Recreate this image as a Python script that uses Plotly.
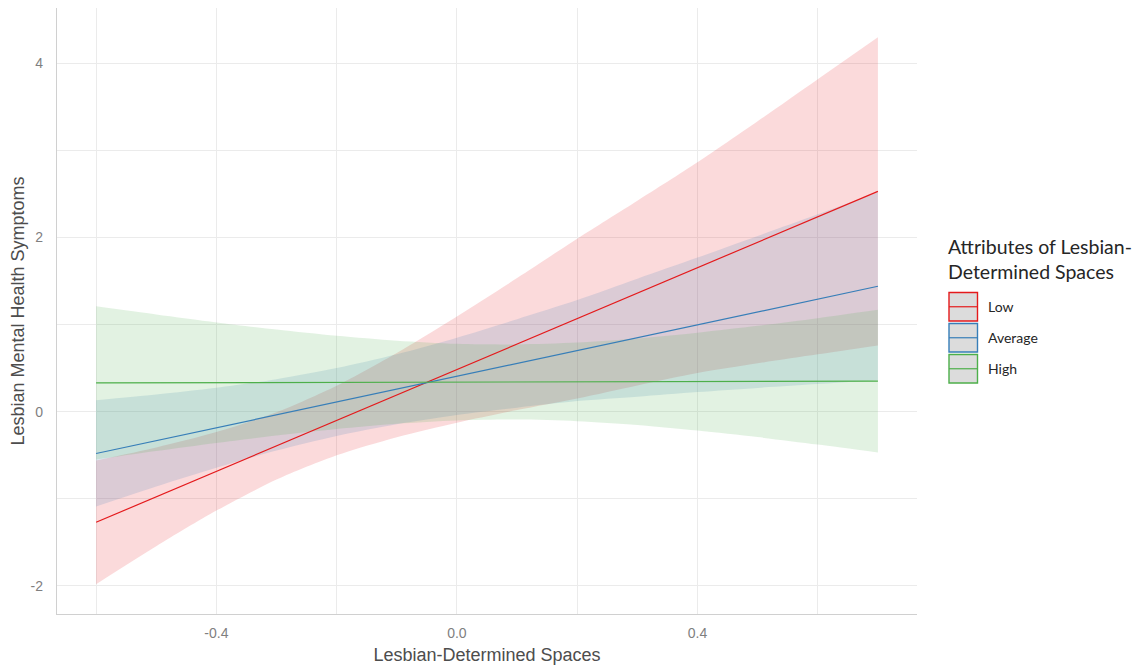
import plotly.graph_objects as go

# ---- data ----
x_vals = [-0.6, -0.5, -0.4, -0.3, -0.2, -0.1, 0.0, 0.1, 0.2, 0.3, 0.4, 0.5, 0.6, 0.7]

groups = ["Low", "Average", "High"]

low_line = [-1.27, -0.978, -0.685, -0.393, -0.101, 0.191, 0.484, 0.776, 1.068, 1.361, 1.653, 1.945, 2.238, 2.53]
low_upper = [-0.56, -0.411, -0.234, -0.006, 0.299, 0.675, 1.094, 1.534, 1.985, 2.421, 2.863, 3.335, 3.818, 4.30]
low_lower = [-1.98, -1.545, -1.136, -0.780, -0.501, -0.293, -0.126, 0.018, 0.151, 0.301, 0.443, 0.555, 0.658, 0.76]

avg_line = [-0.48, -0.332, -0.185, -0.037, 0.111, 0.258, 0.406, 0.554, 0.702, 0.849, 0.997, 1.145, 1.292, 1.44]
avg_upper = [0.13, 0.196, 0.274, 0.373, 0.501, 0.660, 0.850, 1.062, 1.282, 1.526, 1.769, 2.017, 2.267, 2.52]
avg_lower = [-1.09, -0.860, -0.644, -0.447, -0.279, -0.144, -0.038, 0.046, 0.122, 0.172, 0.225, 0.273, 0.317, 0.36]

high_line = [0.33, 0.332, 0.333, 0.335, 0.336, 0.338, 0.339, 0.341, 0.342, 0.344, 0.345, 0.347, 0.348, 0.35]
high_upper = [1.21, 1.116, 1.025, 0.943, 0.871, 0.815, 0.779, 0.772, 0.793, 0.840, 0.907, 0.986, 1.074, 1.17]
high_lower = [-0.55, -0.452, -0.359, -0.273, -0.199, -0.139, -0.101, -0.090, -0.109, -0.152, -0.217, -0.292, -0.378, -0.47]

x_tickvals = [-0.6, -0.4, -0.2, 0.0, 0.2, 0.4, 0.6]
x_ticktext = ["", "-0.4", "", "0.0", "", "0.4", ""]
y_tickvals = [-2, -1, 0, 1, 2, 3, 4]
y_ticktext = ["-2", "", "0", "", "2", "", "4"]

legend_title = "Attributes of Lesbian-<br>Determined Spaces"
x_title = "Lesbian-Determined Spaces"
y_title = "Lesbian Mental Health Symptoms"

# ---- styles ----
line_colors = ["#E41A1C", "#377EB8", "#4DAF4A"]
fill_colors = ["rgba(228,26,28,0.16)", "rgba(55,126,184,0.16)", "rgba(77,175,74,0.16)"]

series = [
    (low_line, low_upper, low_lower),
    (avg_line, avg_upper, avg_lower),
    (high_line, high_upper, high_lower),
]

# page body has an 8px default margin; lay out in figure coordinates
OFF = 8
W, H = 1145 - OFF, 668 - OFF
L, R, T, B = 57 - OFF, 228, 8 - OFF, 54
PW, PH = W - L - R, H - T - B

def px(page_x):
    return (page_x - OFF - L) / PW

def py(page_y):
    return (H - B - (page_y - OFF)) / PH

fig = go.Figure()

for (ln, up, lo), fc, name in zip(series, fill_colors, groups):
    fig.add_trace(go.Scatter(
        x=x_vals, y=up, mode="lines",
        line=dict(width=0, shape="spline", smoothing=0.8),
        hoverinfo="skip", showlegend=False, name=name + " upper",
    ))
    fig.add_trace(go.Scatter(
        x=x_vals, y=lo, mode="lines",
        fill="tonexty", fillcolor=fc,
        line=dict(width=0, shape="spline", smoothing=0.8),
        hoverinfo="skip", showlegend=False, name=name + " lower",
    ))

for (ln, up, lo), lc, name in zip(series, line_colors, groups):
    fig.add_trace(go.Scatter(
        x=x_vals, y=ln, mode="lines",
        line=dict(color=lc, width=1.2),
        showlegend=False, name=name,
    ))

# ---- manual legend (ggplot style keys) ----
shapes = []
annotations = []
annotations.append(dict(
    x=px(946), y=py(233), xref="paper", yref="paper",
    xanchor="left", yanchor="top", align="left",
    text=legend_title, showarrow=False,
    font=dict(family="Lato", size=19.5, color="#262626"),
))
key_top = 292.5
key_step = 31
key_h = 28.5
for i, (name, lc) in enumerate(zip(groups, line_colors)):
    y0 = key_top + i * key_step
    y1 = y0 + key_h
    shapes.append(dict(
        type="rect", xref="paper", yref="paper",
        x0=px(949), x1=px(977.5), y0=py(y1), y1=py(y0),
        fillcolor="#DCDCDC", line=dict(color=lc, width=1.4), layer="above",
    ))
    ym = (y0 + y1) / 2
    shapes.append(dict(
        type="line", xref="paper", yref="paper",
        x0=px(949), x1=px(977.5), y0=py(ym), y1=py(ym),
        line=dict(color=lc, width=1.2), layer="above",
    ))
    annotations.append(dict(
        x=px(986), y=py(ym), xref="paper", yref="paper",
        xanchor="left", yanchor="middle",
        text=name, showarrow=False,
        font=dict(family="Lato", size=14, color="#262626"),
    ))

fig.update_layout(
    width=W, height=H,
    margin=dict(l=L, r=R, t=T, b=B, autoexpand=False),
    paper_bgcolor="white", plot_bgcolor="white",
    shapes=shapes, annotations=annotations,
    showlegend=False,
    font=dict(family="Liberation Sans"),
)

fig.update_xaxes(
    range=[-0.665, 0.765], automargin=False,
    tickvals=x_tickvals, ticktext=x_ticktext,
    showgrid=True, gridcolor="#EBEBEB", gridwidth=1,
    zeroline=False,
    showline=True, linecolor="#D0D0D0", linewidth=1.3,
    ticks="", ticklabelstandoff=6,
    tickfont=dict(family="Liberation Sans", size=14, color="#7F7F7F"),
    title=dict(text=x_title, standoff=8,
               font=dict(family="Liberation Sans", size=18, color="#4D4D4D")),
)
fig.update_yaxes(
    range=[-2.323, 4.635], automargin=False,
    tickvals=y_tickvals, ticktext=y_ticktext,
    showgrid=True, gridcolor="#EBEBEB", gridwidth=1,
    zeroline=False,
    showline=True, linecolor="#D0D0D0", linewidth=1.3,
    ticks="", ticklabelstandoff=10,
    tickfont=dict(family="Liberation Sans", size=14, color="#7F7F7F"),
    title=dict(text=y_title, standoff=6,
               font=dict(family="Liberation Sans", size=18, color="#4D4D4D")),
)

fig.write_html("out.html")
